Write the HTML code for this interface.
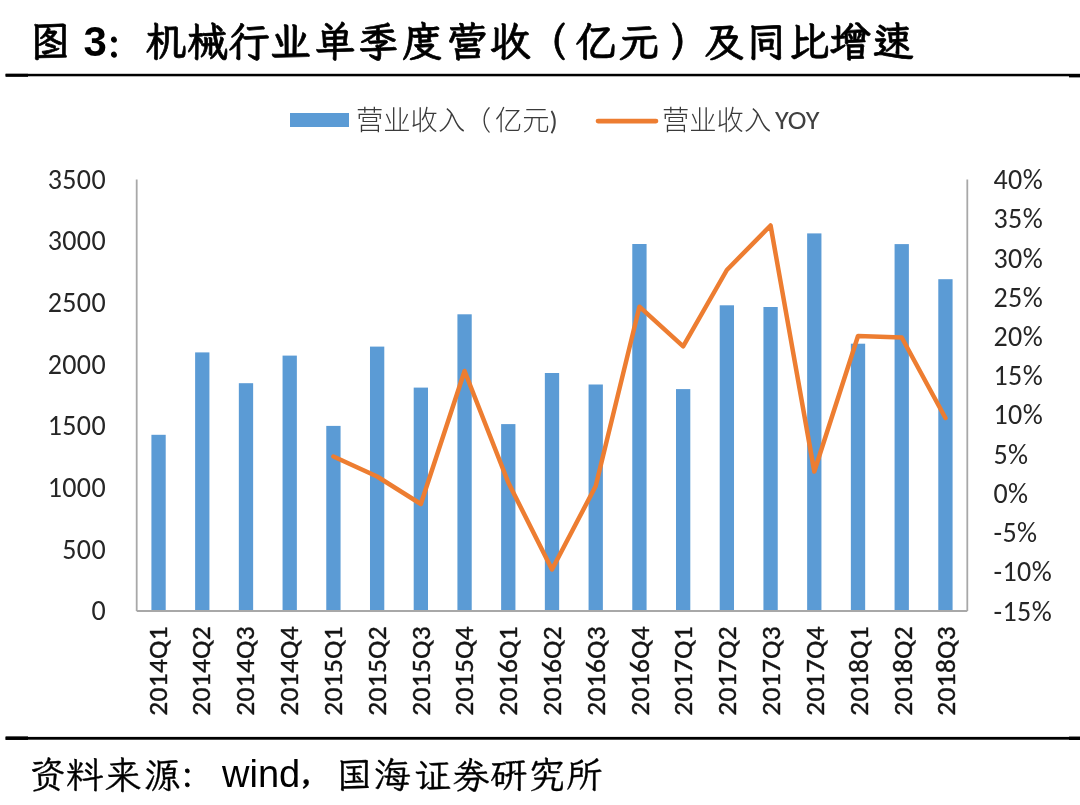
<!DOCTYPE html>
<html lang="zh-CN"><head><meta charset="utf-8"><style>
html,body{margin:0;padding:0;background:#fff;width:1080px;height:805px;overflow:hidden}
svg{display:block}
.kai{font-family:"LXGW WenKai TC","Noto Serif CJK SC",serif;fill:#000}
.ax{font-family:Carlito,"Liberation Sans",Arial,sans-serif;font-size:27.4px;letter-spacing:0.7px;fill:#404040}
.lg{font-family:Carlito,"Liberation Sans","Noto Sans CJK SC",sans-serif;font-size:27px;fill:#404040}
.lgc{font-family:"Noto Sans CJK SC",sans-serif;font-size:27.3px;font-weight:300;fill:#3a3a3a}
</style></head><body>
<svg width="1080" height="805" viewBox="0 0 1080 805">
<rect width="1080" height="805" fill="#fff"/>
<!-- title -->
<text class="kai" y="56" font-size="41" font-weight="700" stroke="#000" stroke-width="0.7" text-anchor="middle" x="50">图</text>
<text x="83.5" y="55.8" font-family="Liberation Sans,Arial,sans-serif" font-size="42" font-weight="700" fill="#000">3</text>
<text class="kai" y="62" font-size="41" font-weight="700" stroke="#000" stroke-width="1.2" text-anchor="middle" x="114">：</text>
<text class="kai" y="56" font-size="41" font-weight="700" stroke="#000" stroke-width="0.7" text-anchor="middle" x="165.9 207.5 249.2 290.8 335.0 378.3 422.5 467.5 510.5 546.4 596.1 639.4 690.5 724.5 766.2 809.0 849.7 893.5">机械行业单季度营收（亿元）及同比增速</text>
<rect x="5.6" y="73.8" width="1074.4" height="2.5" fill="#000"/>
<rect x="5.6" y="73.8" width="22.4" height="3" fill="#000"/>
<rect x="1069" y="74" width="11" height="3.4" fill="#000"/>
<!-- legend -->
<rect x="290" y="113" width="59" height="14" fill="#5B9BD5"/>
<text class="lgc" y="130" x="356">营业收入<tspan x="464">（</tspan><tspan x="495">亿元</tspan></text>
<text class="lg" x="549.5" y="130">)</text>
<line x1="598" y1="121.1" x2="656" y2="121.1" stroke="#ED7D31" stroke-width="4.7" stroke-linecap="round"/>
<text class="lgc" x="662" y="130">营业收入</text>
<text class="lg" x="775" y="128.7" textLength="44.6" lengthAdjust="spacingAndGlyphs">YOY</text>
<!-- bars -->
<g fill="#5B9BD5"><rect x="151.41" y="434.8" width="14.3" height="176.2"/><rect x="195.12" y="352.4" width="14.3" height="258.6"/><rect x="238.84" y="383.2" width="14.3" height="227.8"/><rect x="282.56" y="355.6" width="14.3" height="255.4"/><rect x="326.27" y="425.9" width="14.3" height="185.1"/><rect x="369.99" y="346.6" width="14.3" height="264.4"/><rect x="413.70" y="387.6" width="14.3" height="223.4"/><rect x="457.42" y="314.3" width="14.3" height="296.7"/><rect x="501.13" y="424.1" width="14.3" height="186.9"/><rect x="544.85" y="373.0" width="14.3" height="238.0"/><rect x="588.57" y="384.5" width="14.3" height="226.5"/><rect x="632.28" y="244.0" width="14.3" height="367.0"/><rect x="676.00" y="389.1" width="14.3" height="221.9"/><rect x="719.71" y="305.3" width="14.3" height="305.7"/><rect x="763.43" y="307.0" width="14.3" height="304.0"/><rect x="807.14" y="233.4" width="14.3" height="377.6"/><rect x="850.86" y="343.7" width="14.3" height="267.3"/><rect x="894.58" y="244.1" width="14.3" height="366.9"/><rect x="938.29" y="279.2" width="14.3" height="331.8"/></g>
<!-- axes -->
<g stroke="#A8A8A8" stroke-width="1.8" fill="none">
<line x1="136.7" y1="179.5" x2="136.7" y2="611.0"/>
<line x1="967.3" y1="179.5" x2="967.3" y2="611.0"/>
<line x1="136.7" y1="611.0" x2="967.3" y2="611.0"/>
</g>
<polyline points="333.42,456.5 377.14,476.5 420.85,504 464.57,371 508.28,482.5 552.00,569.5 595.72,486 639.43,306.7 683.15,346.3 726.86,270 770.58,225.5 814.29,471.5 858.01,336 901.73,337.5 945.44,418" fill="none" stroke="#ED7D31" stroke-width="4.5" stroke-linejoin="round" stroke-linecap="round"/>
<g class="ax" text-anchor="end" style="font-size:28px;letter-spacing:0.4px;fill:#262626"><text x="106" y="188.7">3500</text><text x="106" y="250.3">3000</text><text x="106" y="312.0">2500</text><text x="106" y="373.6">2000</text><text x="106" y="435.3">1500</text><text x="106" y="496.9">1000</text><text x="106" y="558.6">500</text><text x="106" y="620.2">0</text></g>
<g class="ax" style="font-size:28px;letter-spacing:0.4px;fill:#262626"><text x="993.5" y="189.0">40%</text><text x="993.5" y="228.2">35%</text><text x="993.5" y="267.5">30%</text><text x="993.5" y="306.7">25%</text><text x="993.5" y="345.9">20%</text><text x="993.5" y="385.1">15%</text><text x="993.5" y="424.4">10%</text><text x="993.5" y="463.6">5%</text><text x="993.5" y="502.8">0%</text><text x="993.5" y="542.0">-5%</text><text x="993.5" y="581.3">-10%</text><text x="993.5" y="620.5">-15%</text></g>
<g class="ax" text-anchor="end" style="letter-spacing:0.3px;fill:#141414;stroke:#141414;stroke-width:0.4px"><text transform="translate(166.60,626) rotate(-90)">2014Q1</text><text transform="translate(210.42,626) rotate(-90)">2014Q2</text><text transform="translate(254.24,626) rotate(-90)">2014Q3</text><text transform="translate(298.06,626) rotate(-90)">2014Q4</text><text transform="translate(341.88,626) rotate(-90)">2015Q1</text><text transform="translate(385.70,626) rotate(-90)">2015Q2</text><text transform="translate(429.52,626) rotate(-90)">2015Q3</text><text transform="translate(473.34,626) rotate(-90)">2015Q4</text><text transform="translate(517.16,626) rotate(-90)">2016Q1</text><text transform="translate(560.98,626) rotate(-90)">2016Q2</text><text transform="translate(604.80,626) rotate(-90)">2016Q3</text><text transform="translate(648.62,626) rotate(-90)">2016Q4</text><text transform="translate(692.44,626) rotate(-90)">2017Q1</text><text transform="translate(736.26,626) rotate(-90)">2017Q2</text><text transform="translate(780.08,626) rotate(-90)">2017Q3</text><text transform="translate(823.90,626) rotate(-90)">2017Q4</text><text transform="translate(867.72,626) rotate(-90)">2018Q1</text><text transform="translate(911.54,626) rotate(-90)">2018Q2</text><text transform="translate(955.36,626) rotate(-90)">2018Q3</text></g>
<!-- footer -->
<rect x="5.6" y="736.9" width="1074.4" height="2.8" fill="#000"/>
<rect x="5.6" y="736.4" width="22.4" height="3.5" fill="#000"/>
<rect x="1069" y="736.6" width="11" height="3.4" fill="#000"/>
<text class="kai" y="787.5" font-size="37" stroke="#000" stroke-width="0.35" text-anchor="middle" x="47.2 84.2 122.9 162.6">资料来源</text>
<text class="kai" y="791" font-size="37" stroke="#000" stroke-width="0.8" text-anchor="middle" x="187.5">：</text>
<text class="kai" y="797" font-size="37" stroke="#000" stroke-width="0.3" text-anchor="middle" x="306.3">，</text>
<text x="222" y="786.8" font-family="Liberation Sans,Arial,sans-serif" font-size="38" fill="#000">wind</text>
<text class="kai" y="787.5" font-size="37" stroke="#000" stroke-width="0.35" text-anchor="middle" x="354.5 392.2 432.0 470.8 508.4 546.7 583.9">国海证券研究所</text>
</svg>
</body></html>
